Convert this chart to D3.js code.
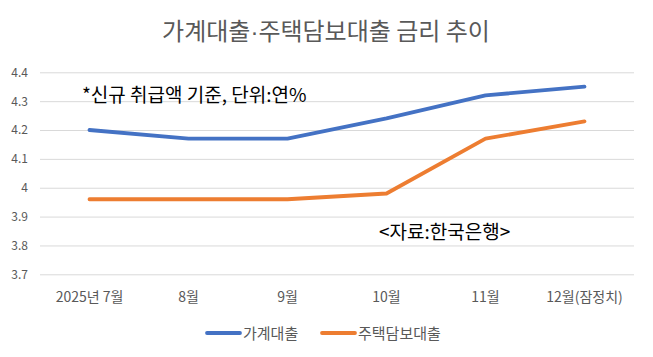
<!DOCTYPE html>
<html><head><meta charset="utf-8">
<script src="https://cdn.jsdelivr.net/npm/d3@7"></script>
<style>
body{margin:0;background:#fff;}
text{font-family:"Noto Sans CJK KR","Noto Sans",sans-serif;}
</style></head>
<body><svg id="c" width="653" height="357"></svg>
<script>
const categories = ["2025년 7월","8월","9월","10월","11월","12월(잠정치)"];
const household = [4.20,4.17,4.17,4.24,4.32,4.35];
const mortgage = [3.96,3.96,3.96,3.98,4.17,4.23];
const seriesNames = ["가계대출","주택담보대출"];
const yTicks = [3.7,3.8,3.9,4,4.1,4.2,4.3,4.4];
const colors = ["#4472C4","#ED7D31"];

const svg = d3.select("#c");
svg.append("rect").attr("width",653).attr("height",357).attr("fill","#fff");
const x = d3.scaleBand().domain(categories).range([40,634]);
const y = d3.scaleLinear().domain([3.7,4.4]).range([274.3,72.3]);

const title = svg.append("text").attr("x",326).attr("y",40).attr("text-anchor","middle")
  .attr("font-size",24).attr("fill","#595959");
title.append("tspan").text("가계대출");
title.append("tspan").style("font-family","'Liberation Sans',sans-serif").text("·");
title.append("tspan").text("주택담보대출 금리 추이");

const gy = svg.append("g").attr("transform","translate(40,0)")
  .call(d3.axisLeft(y).tickValues(yTicks).tickSize(-594).tickFormat(d=>String(d)).tickPadding(12));
gy.select(".domain").remove();
gy.selectAll("line").attr("stroke","#D9D9D9").attr("stroke-width",1);
gy.selectAll("text").attr("font-size",12).attr("fill","#595959")
  .style("font-family","'Noto Sans CJK KR',sans-serif");

const gx = svg.append("g").attr("transform","translate(0,274.3)")
  .call(d3.axisBottom(x).tickSize(0).tickPadding(18));
gx.select(".domain").remove();
gx.selectAll("text").attr("font-size",14).attr("fill","#595959")
  .style("font-family","'Noto Sans CJK KR',sans-serif");

const line = d3.line().x((d,i)=>x(categories[i])+x.bandwidth()/2).y(d=>y(d));
[household,mortgage].forEach((s,k)=>{
  svg.append("path").datum(s).attr("d",line).attr("fill","none")
    .attr("stroke",colors[k]).attr("stroke-width",3.8).attr("stroke-linejoin","round").attr("stroke-linecap","round");
});

svg.append("text").attr("x",82).attr("y",102).attr("font-size",19).attr("fill","#000")
  .text("*신규 취급액 기준, 단위:연%");
svg.append("text").attr("x",379).attr("y",239).attr("font-size",19).attr("fill","#000")
  .text("<자료:한국은행>");

const legendX = [207,322];
seriesNames.forEach((n,k)=>{
  svg.append("line").attr("x1",legendX[k]).attr("x2",legendX[k]+33).attr("y1",333).attr("y2",333)
    .attr("stroke",colors[k]).attr("stroke-width",3.8).attr("stroke-linecap","round");
  svg.append("text").attr("x",legendX[k]+36).attr("y",339).attr("font-size",15).attr("fill","#595959").text(n);
});
</script></body></html>
